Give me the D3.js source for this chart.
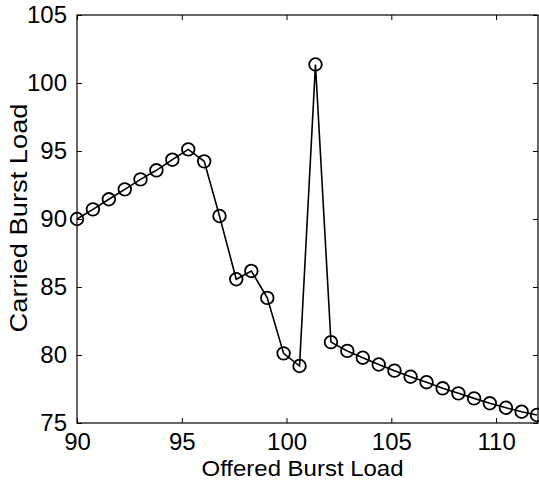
<!DOCTYPE html>
<html>
<head>
<meta charset="utf-8">
<script src="https://cdn.jsdelivr.net/npm/d3@7"></script>
<style>
    body { margin: 0; background: #fff; }
    text { font-family: "Liberation Sans", Arial, sans-serif; fill: #000; }
</style>
</head>
<body>
<script>
// offered load (x) and carried load (y)
var offered = [90.0, 90.76, 91.52, 92.28, 93.03, 93.79, 94.55, 95.31, 96.07,
    96.8, 97.6, 98.32, 99.08, 99.86, 100.62, 101.38, 102.12, 102.9, 103.64,
    104.4, 105.15, 105.92, 106.68, 107.45, 108.2, 108.95, 109.7, 110.47,
    111.22, 111.95];
var carried = [90.0, 90.71, 91.45, 92.18, 92.91, 93.58, 94.36, 95.12, 94.24,
    90.22, 85.57, 86.18, 84.2, 80.12, 79.19, 101.36, 80.95, 80.3, 79.8, 79.3,
    78.85, 78.4, 78.0, 77.55, 77.18, 76.81, 76.45, 76.12, 75.83, 75.59];
var xTicks = [90, 95, 100, 105, 110];
var yTicks = [75, 80, 85, 90, 95, 100, 105];

var margin = {top: 15, right: 1, bottom: 58, left: 77},
    width = 539 - margin.left - margin.right,
    height = 481 - margin.top - margin.bottom;

var svg = d3.select("body").append("svg")
    .attr("width", 539)
    .attr("height", 481)
    .append("g")
    .attr("transform", "translate(" + margin.left + "," + margin.top + ")");

var x = d3.scaleLinear().domain([90, 112]).range([0, width]);
var y = d3.scaleLinear().domain([75, 105]).range([height, 0]);

// matlab style: ticks point inward, on all four sides
function styleAxis(g) {
    g.select(".domain").remove();
    g.selectAll(".tick line").attr("stroke", "#000").attr("stroke-width", 1);
    g.selectAll("text").attr("font-size", "24px");
}

svg.append("g")
    .attr("transform", "translate(0," + height + ")")
    .call(d3.axisBottom(x).tickValues(xTicks).tickSize(-5).tickPadding(10))
    .call(styleAxis);
svg.append("g")
    .call(d3.axisTop(x).tickValues(xTicks).tickSize(-5).tickFormat(""))
    .call(styleAxis);
svg.append("g")
    .call(d3.axisLeft(y).tickValues(yTicks).tickSize(-5).tickPadding(10))
    .call(styleAxis);
svg.append("g")
    .attr("transform", "translate(" + width + ",0)")
    .call(d3.axisRight(y).tickValues(yTicks).tickSize(-5).tickFormat(""))
    .call(styleAxis);

svg.append("rect")
    .attr("width", width)
    .attr("height", height)
    .attr("fill", "none")
    .attr("stroke", "#000")
    .attr("stroke-width", 1.2);

var pts = offered.map(function(d, i) { return [d, carried[i]]; });

svg.append("path")
    .datum(pts)
    .attr("fill", "none")
    .attr("stroke", "#000")
    .attr("stroke-width", 1.6)
    .attr("d", d3.line()
        .x(function(d) { return x(d[0]); })
        .y(function(d) { return y(d[1]); }));

svg.selectAll("circle.pt")
    .data(pts)
    .enter()
    .append("circle")
    .attr("class", "pt")
    .attr("cx", function(d) { return x(d[0]); })
    .attr("cy", function(d) { return y(d[1]); })
    .attr("r", 6.3)
    .attr("fill", "none")
    .attr("stroke", "#000")
    .attr("stroke-width", 1.8);

// axis titles
svg.append("text")
    .attr("x", width / 2 - 5)
    .attr("y", height + 53)
    .attr("text-anchor", "middle")
    .attr("font-size", "22px")
    .attr("textLength", 202)
    .attr("lengthAdjust", "spacingAndGlyphs")
    .text("Offered Burst Load");

svg.append("text")
    .attr("transform", "translate(" + (27 - margin.left) + "," +
        (height / 2 - 1) + ") rotate(-90)")
    .attr("text-anchor", "middle")
    .attr("font-size", "24px")
    .attr("textLength", 229)
    .attr("lengthAdjust", "spacingAndGlyphs")
    .text("Carried Burst Load");
</script>
</body>
</html>
